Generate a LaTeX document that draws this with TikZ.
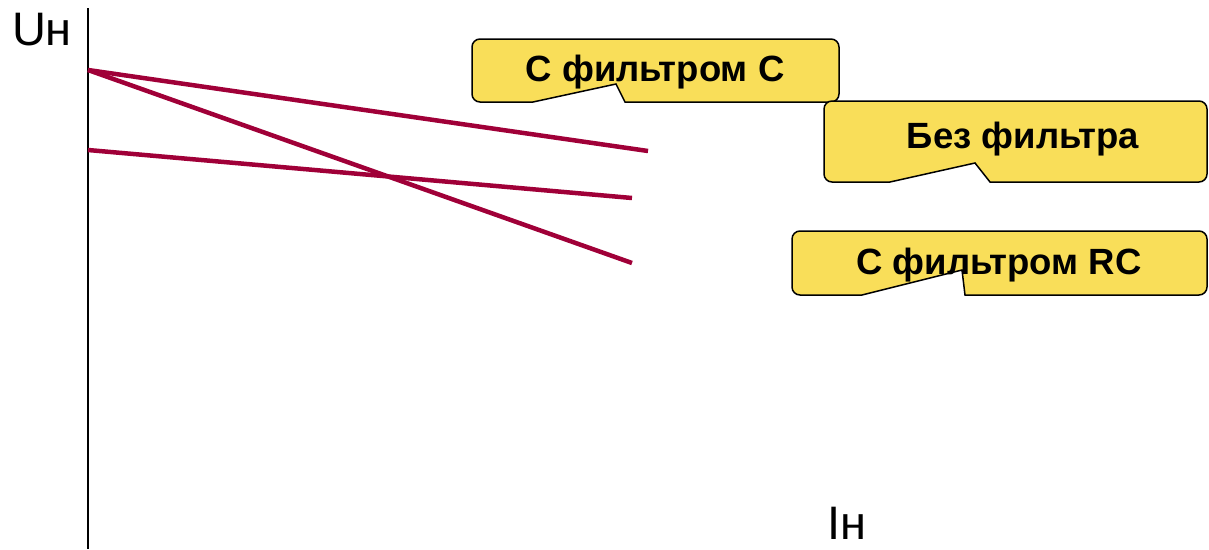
\documentclass[tikz,border=0pt]{standalone}
\usepackage{fontspec}
\setmainfont{Liberation Sans}
\definecolor{curve}{RGB}{160,0,56}
\definecolor{note}{RGB}{249,222,89}
\tikzset{
  curveline/.style={line width=4.5pt, curve},
  notebox/.style={fill=note, draw=black, line width=1.5pt, rounded corners=8pt},
  notetext/.style={font=\bfseries\fontsize{36.5}{40}\selectfont},
  axislabel/.style={inner sep=0pt, font=\fontsize{47}{50}\selectfont}
}
\begin{document}
\begin{tikzpicture}[x=1pt, y=-1pt]
    \useasboundingbox (0,0) rectangle (1209,549);

    % Axis
    \draw[line width=1.5pt] (88,8) -- (88,549);
    \node[axislabel] (uaxis) at (42,30) {Uн};
    \node[axislabel] (iaxis) at (847,523) {Iн};

    % Characteristic lines
    \coordinate (top) at (88,70);
    \coordinate (mid) at (88,150);
    \coordinate (cend) at (648,151);
    \coordinate (rcend) at (632,263);
    \coordinate (noend) at (632,198);
    \draw[curveline] (top) -- (cend);
    \draw[curveline] (top) -- (rcend);
    \draw[curveline] (mid) -- (noend);

    % Callout C
    \draw[notebox] (472,39) -- (839,39) -- (839,102) [sharp corners] -- (625,102)
        -- (616,84) -- (533,102) [rounded corners=8pt] -- (472,102) -- cycle;
    \node[notetext] (cnote) at (655,72) {С фильтром С};

    % Callout without filter
    \draw[notebox] (824,101) -- (1207,101) -- (1207,182) [sharp corners] -- (990,182)
        -- (975,163) -- (890,182) [rounded corners=8pt] -- (824,182) -- cycle;
    \node[notetext] (nonote) at (1023,139) {Без фильтра};

    % Callout RC
    \draw[notebox] (792,231) -- (1207,231) -- (1207,295) [sharp corners] -- (965,295)
        -- (962,270) -- (862,295) [rounded corners=8pt] -- (792,295) -- cycle;
    \node[notetext] (rcnote) at (999,265) {С фильтром RC};

\end{tikzpicture}
\end{document}
